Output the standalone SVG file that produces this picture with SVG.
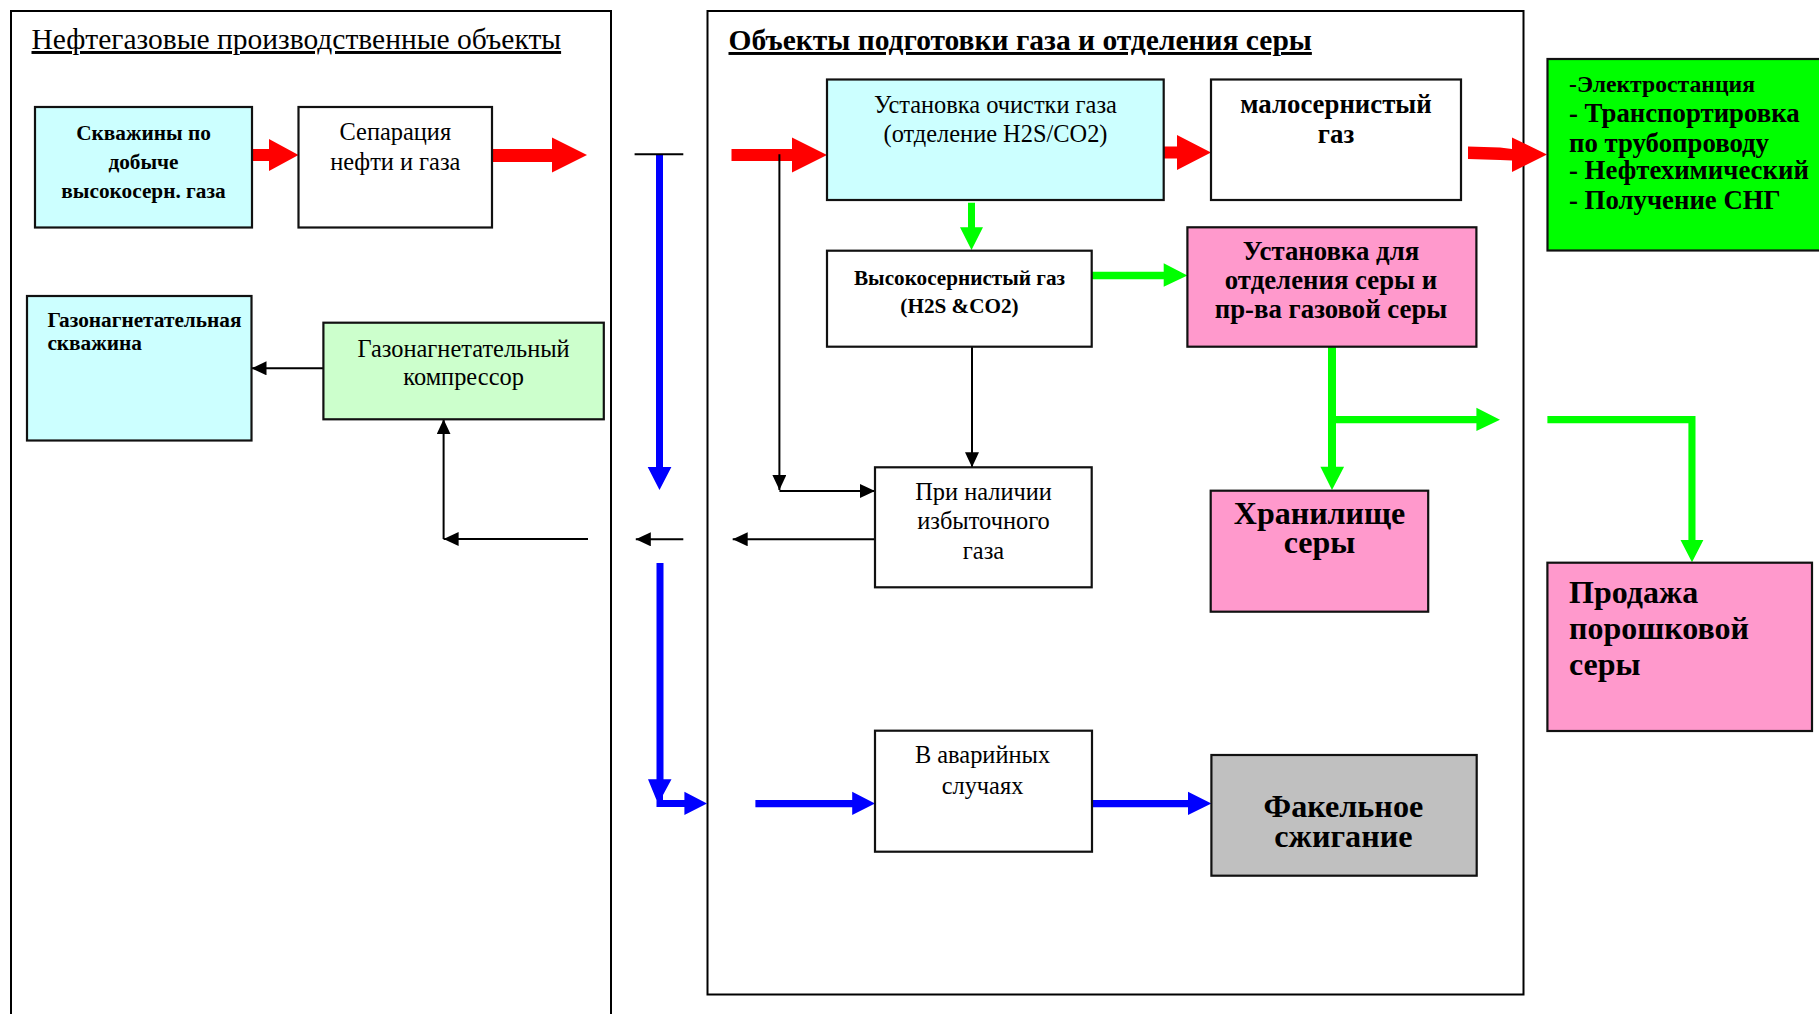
<svg xmlns="http://www.w3.org/2000/svg" width="1819" height="1014" viewBox="0 0 1819 1014">
  <style>
    text { font-family: "Liberation Serif", "Times New Roman", serif; fill: #000; }
    .reg { font-size: 24.4px; font-weight: normal; }
    .b21 { font-size: 21.3px; font-weight: bold; }
    .b27 { font-size: 26.8px; font-weight: bold; }
    .b32 { font-size: 32px; font-weight: bold; }
    .mid { text-anchor: middle; }
    .panel { fill: none; stroke: #000; stroke-width: 2; }
    .box { stroke: #111; stroke-width: 2.2; }
    .white { fill: #fff; }
    .cyan { fill: #ccffff; }
    .lgreen { fill: #ccffcc; }
    .pink { fill: #ff99cc; }
    .green { fill: #00ff00; }
    .grey { fill: #c0c0c0; }
    .red { fill: #ff0000; }
    .gr { fill: #00ff00; }
    .blue { fill: #0000ff; }
    .thin { fill: none; stroke: #000; stroke-width: 2; }
  </style>
  <defs>
    <marker id="head" markerUnits="userSpaceOnUse" markerWidth="16" markerHeight="15" refX="15" refY="7" orient="auto">
      <path d="M0,0 L15,7 L0,14 Z" fill="#000"/>
    </marker>
  </defs>

  <rect width="1819" height="1014" fill="#fff"/>

  <!-- two framed areas -->
  <g id="panel-production">
    <rect class="panel" x="11" y="11" width="600" height="1020"/>
    <text x="31.5" y="49" font-size="29.5" text-decoration="underline">Нефтегазовые производственные объекты</text>
  </g>
  <g id="panel-treatment">
    <rect class="panel" x="707.5" y="11" width="816" height="983.5"/>
    <text x="728.5" y="50" font-size="29.5" font-weight="bold" text-decoration="underline">Объекты подготовки газа и отделения серы</text>
  </g>

  <!-- connectors -->
  <g id="connectors">
    <!-- red: gas flow -->
    <polygon class="red" points="252,149 269,149 269,139 298.5,155 269,171 269,161 252,161"/>
    <polygon class="red" points="492,149 552,149 552,137.5 587,155 552,172.5 552,162 492,162"/>
    <polygon class="red" points="731.5,149 792,149 792,137.5 827,155 792,172.5 792,161 731.5,161"/>
    <polygon class="red" points="1163.7,146.5 1177,146.5 1177,135 1211,152.5 1177,170 1177,158.5 1163.7,158.5"/>
    <polygon class="red" points="1468,146.5 1500,147.5 1512,149 1512,137.5 1547,154.5 1512,172 1512,160.5 1500,160 1468,159"/>

    <!-- green: sulphur line -->
    <polygon class="gr" points="968,202.7 975,202.7 975,227.3 983,227.3 971.5,250 960,227.3 968,227.3"/>
    <polygon class="gr" points="1091.7,271.7 1163.7,271.7 1163.7,263.3 1187.4,275.5 1163.7,286.7 1163.7,279.3 1091.7,279.3"/>
    <polygon class="gr" points="1328,346.7 1336,346.7 1336,466.7 1344.1,466.7 1332,490 1320.4,466.7 1328,466.7"/>
    <polygon class="gr" points="1336,416 1476.4,416 1476.4,407.7 1500,419.7 1476.4,431 1476.4,423.3 1336,423.3"/>
    <polygon class="gr" points="1547.4,416 1695.5,416 1695.5,540 1703.4,540 1692,562.3 1680.5,540 1688.4,540 1688.4,423.3 1547.4,423.3"/>

    <!-- blue: emergency line -->
    <polygon class="blue" points="656,154 663,154 663,467 671.4,467 659.5,490 647.7,467 656,467"/>
    <polygon class="blue" points="656.5,563 663.5,563 663.5,779.3 671.5,779.3 663,795 663,800 684.4,800 684.4,791.7 707,803.5 684.4,815 684.4,807 656.5,807 656.5,800 648,779.3 656.5,779.3"/>
    <polygon class="blue" points="755.4,800 852.2,800 852.2,791.7 875,803.5 852.2,815 852.2,807.3 755.4,807.3"/>
    <polygon class="blue" points="1092.3,800 1188,800 1188,791.7 1211.4,803.5 1188,815 1188,807.3 1092.3,807.3"/>

    <!-- black: excess gas return -->
    <line class="thin" x1="634.6" y1="154.3" x2="683.3" y2="154.3"/>
    <line class="thin" x1="779.4" y1="154.3" x2="779.4" y2="490" marker-end="url(#head)"/>
    <line class="thin" x1="779.4" y1="491" x2="875" y2="491" marker-end="url(#head)"/>
    <line class="thin" x1="972" y1="346.7" x2="972" y2="467.3" marker-end="url(#head)"/>
    <line class="thin" x1="875" y1="539.3" x2="732.7" y2="539.3" marker-end="url(#head)"/>
    <line class="thin" x1="683.3" y1="539.3" x2="635.8" y2="539.3" marker-end="url(#head)"/>
    <line class="thin" x1="588" y1="539" x2="443.6" y2="539" marker-end="url(#head)"/>
    <line class="thin" x1="443.6" y1="539" x2="443.6" y2="419.3" marker-end="url(#head)"/>
    <line class="thin" x1="331" y1="368.3" x2="251.5" y2="368.3" marker-end="url(#head)"/>
  </g>

  <!-- nodes -->
  <g id="wells">
    <rect class="box cyan" x="35" y="107" width="217" height="120.5"/>
    <text class="b21 mid" x="143.5" y="140">Скважины по</text>
    <text class="b21 mid" x="143.5" y="169">добыче</text>
    <text class="b21 mid" x="143.5" y="198">высокосерн. газа</text>
  </g>
  <g id="separation">
    <rect class="box white" x="298.5" y="107" width="193.5" height="120.5"/>
    <text class="reg mid" x="395.3" y="140">Сепарация</text>
    <text class="reg mid" x="395.3" y="170">нефти и газа</text>
  </g>
  <g id="injection-well">
    <rect class="box cyan" x="27" y="296" width="224.5" height="144.5"/>
    <text class="b21" x="47.4" y="326.7">Газонагнетательная</text>
    <text class="b21" x="47.4" y="350">скважина</text>
  </g>
  <g id="compressor">
    <rect class="box lgreen" x="323.4" y="322.7" width="280.4" height="96.6"/>
    <text class="reg mid" x="463.6" y="356.7">Газонагнетательный</text>
    <text class="reg mid" x="463.6" y="385">компрессор</text>
  </g>
  <g id="gas-treatment">
    <rect class="box cyan" x="827" y="79.5" width="336.7" height="120.5"/>
    <text class="reg mid" x="995.5" y="113.3">Установка очистки газа</text>
    <text class="reg mid" x="995.5" y="141.7">(отделение H2S/CO2)</text>
  </g>
  <g id="sweet-gas">
    <rect class="box white" x="1211" y="79.5" width="250" height="120.5"/>
    <text class="b27 mid" x="1336" y="113.3">малосернистый</text>
    <text class="b27 mid" x="1336" y="142.7">газ</text>
  </g>
  <g id="consumers">
    <rect class="box green" x="1547.5" y="59" width="290" height="191.5"/>
    <text x="1569" y="91.7" font-size="23.7" font-weight="bold">-Электростанция</text>
    <text class="b27" x="1569" y="121.7">- Транспортировка</text>
    <text class="b27" x="1569" y="151.7">по трубопроводу</text>
    <text class="b27" x="1569" y="179.3">- Нефтехимический</text>
    <text class="b27" x="1569" y="209">- Получение СНГ</text>
  </g>
  <g id="sour-gas">
    <rect class="box white" x="827" y="250.7" width="264.7" height="96"/>
    <text class="mid" x="959.5" y="285" font-size="21.2" font-weight="bold">Высокосернистый газ</text>
    <text class="mid" x="959.5" y="313.3" font-size="21.2" font-weight="bold">(H2S &amp;CO2)</text>
  </g>
  <g id="sulphur-unit">
    <rect class="box pink" x="1187.4" y="227.3" width="289" height="119.4"/>
    <text class="b27 mid" x="1331" y="260">Установка для</text>
    <text class="b27 mid" x="1331" y="289.3">отделения серы и</text>
    <text class="b27 mid" x="1331" y="318.3">пр-ва газовой серы</text>
  </g>
  <g id="excess-gas">
    <rect class="box white" x="875" y="467.3" width="216.7" height="120"/>
    <text class="reg mid" x="983.5" y="500">При наличии</text>
    <text class="reg mid" x="983.5" y="529.3">избыточного</text>
    <text class="reg mid" x="983.5" y="559.3">газа</text>
  </g>
  <g id="sulphur-storage">
    <rect class="box pink" x="1210.7" y="490.7" width="217.5" height="121"/>
    <text class="b32 mid" x="1319.5" y="524.3">Хранилище</text>
    <text class="b32 mid" x="1319.5" y="553.3">серы</text>
  </g>
  <g id="sulphur-sale">
    <rect class="box pink" x="1547.4" y="562.7" width="264.6" height="168.3"/>
    <text class="b32" x="1569" y="602.7">Продажа</text>
    <text class="b32" x="1569" y="639.3">порошковой</text>
    <text class="b32" x="1569" y="675">серы</text>
  </g>
  <g id="emergency">
    <rect class="box white" x="875" y="730.7" width="217" height="121"/>
    <text class="reg mid" x="982.5" y="763.3">В аварийных</text>
    <text class="reg mid" x="982.5" y="794">случаях</text>
  </g>
  <g id="flare">
    <rect class="box grey" x="1211.4" y="755" width="265.3" height="120.7"/>
    <text class="mid" x="1343.4" y="816.7" font-size="32.2" font-weight="bold">Факельное</text>
    <text class="mid" x="1343.4" y="846.7" font-size="32.2" font-weight="bold">сжигание</text>
  </g>
</svg>
